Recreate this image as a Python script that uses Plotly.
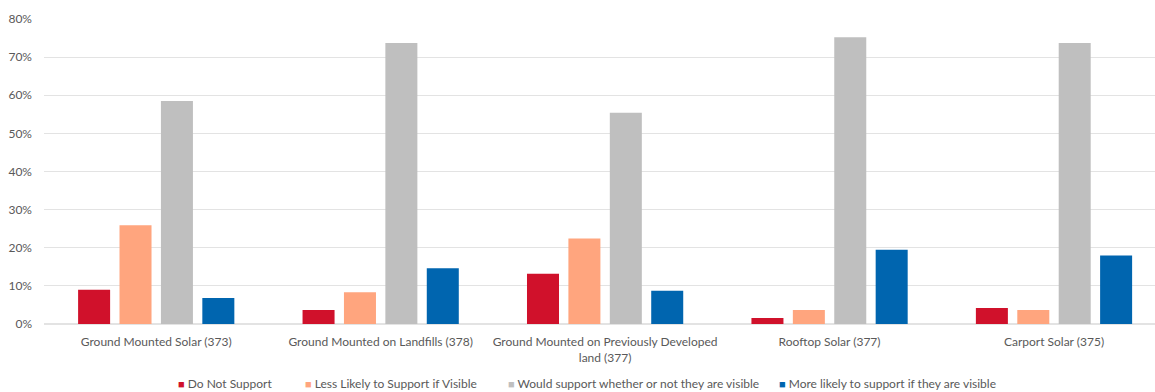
import plotly.graph_objects as go

categories = [
    "Ground Mounted Solar (373)",
    "Ground Mounted on Landfills (378)",
    "Ground Mounted on Previously Developed<br>land (377)",
    "Rooftop Solar (377)",
    "Carport Solar (375)",
]

series_names = [
    "Do Not Support",
    "Less Likely to Support if Visible",
    "Would support whether or not they are visible",
    "More likely to support if they are visible",
]

do_not_support = [0.090, 0.037, 0.132, 0.016, 0.042]
less_likely = [0.259, 0.083, 0.224, 0.037, 0.037]
support_either = [0.585, 0.737, 0.554, 0.752, 0.737]
more_likely = [0.068, 0.146, 0.087, 0.195, 0.180]

series_values = [do_not_support, less_likely, support_either, more_likely]
colors = ["#D0112B", "#FFA57E", "#BFBFBF", "#0065AF"]

# left edge (px) of each key in the legend row
legend_left_px = [176, 303, 506, 777]

FONT = "Lato, 'Open Sans', sans-serif"
TEXT_COLOR = "#595959"
W, H = 1155, 392

fig = go.Figure()

for name, vals, col in zip(series_names, series_values, colors):
    fig.add_trace(go.Bar(
        x=categories, y=vals, name=name,
        marker=dict(color=col, line=dict(width=0)),
        showlegend=False,
        hovertemplate="%{x}<br>" + name + ": %{y:.0%}<extra></extra>",
    ))

# legend row: coloured square key followed by the series name
for name, col, left in zip(series_names, colors, legend_left_px):
    fig.add_annotation(
        xref="paper", yref="paper",
        x=(left - 44) / (W - 44), y=-(384 - 324.3) / (324.3 - 19),
        xanchor="left", yanchor="middle", showarrow=False,
        text=f"<span style='color:{col};font-size:11px'>■</span> {name}",
        font=dict(family=FONT, size=12, color=TEXT_COLOR),
    )

fig.update_layout(
    width=W, height=H,
    margin=dict(l=44, r=0, t=19, b=67.7, autoexpand=False),
    paper_bgcolor="white", plot_bgcolor="white",
    barmode="group", bargap=0.262, bargroupgap=0.227,
    font=dict(family=FONT, size=12, color=TEXT_COLOR),
    showlegend=False,
)

fig.update_xaxes(
    type="category", range=[-0.5, 4.45],
    showgrid=False, showline=False, ticks="",
    tickfont=dict(family=FONT, size=12, color=TEXT_COLOR),
    tickangle=0, ticklabelstandoff=9, automargin=False,
)

fig.update_yaxes(
    range=[0, 0.8], dtick=0.1, tickformat=".0%",
    showgrid=True, gridcolor="#E3E3E3", gridwidth=1,
    zeroline=True, zerolinecolor="#E3E3E3", zerolinewidth=2,
    showline=False, ticks="", ticklabelstandoff=11, automargin=False,
    tickfont=dict(family=FONT, size=12, color=TEXT_COLOR),
)

fig.write_html("out.html")
